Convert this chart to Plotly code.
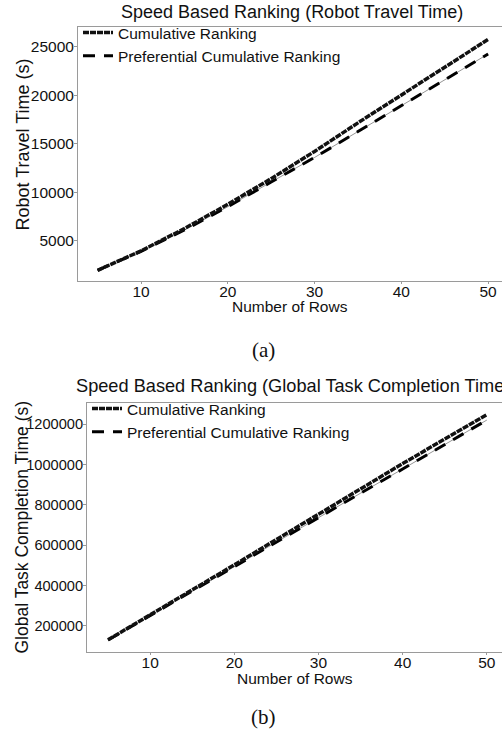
import plotly.graph_objects as go

# ---------------- data ----------------
rows = [5, 10, 15, 20, 25, 30, 35, 40, 45, 50]

travel_cumulative = [1950, 3950, 6250, 8750, 11400, 14200, 17150, 20050, 22900, 25750]
travel_preferential = [1950, 3900, 6100, 8500, 11050, 13580, 16250, 18900, 21600, 24250]

global_cumulative = [130000, 253000, 377000, 502000, 628000, 755000, 880000, 1005000, 1127000, 1248000]
global_preferential = [129000, 251000, 373000, 495000, 617000, 738000, 858000, 978000, 1100000, 1221000]

x_ticks = [10, 20, 30, 40, 50]
y1_ticks = [5000, 10000, 15000, 20000, 25000]
y2_ticks = [200000, 400000, 600000, 800000, 1000000, 1200000]

W, H = 502, 733
FONT = "Liberation Sans, Arial, sans-serif"

def px(x):
    return x / W

def py(y):
    return 1 - y / H

fig = go.Figure()

def add_panel(xa, ya, cum, pref, legend):
    # thin gray connecting line under the dashes
    fig.add_trace(go.Scatter(x=rows, y=pref, mode="lines", xaxis=xa, yaxis=ya,
                             line=dict(color="#7a7a7a", width=0.8),
                             showlegend=False, hoverinfo="skip", legend=legend))
    fig.add_trace(go.Scatter(x=rows, y=pref, mode="lines", xaxis=xa, yaxis=ya,
                             name="Preferential Cumulative Ranking",
                             line=dict(color="black", width=3, dash="12px,9px"),
                             legend=legend, legendrank=2))
    fig.add_trace(go.Scatter(x=rows, y=cum, mode="lines", xaxis=xa, yaxis=ya,
                             name="Cumulative Ranking",
                             line=dict(color="#111111", width=3.5, dash="6px,1px"),
                             legend=legend, legendrank=1))

add_panel("x", "y", travel_cumulative, travel_preferential, "legend")
add_panel("x2", "y2", global_cumulative, global_preferential, "legend2")

axis_common = dict(showline=True, linecolor="#9a9a9a", linewidth=1, mirror=True,
                   showgrid=False, zeroline=False, ticks="outside", ticklen=3,
                   tickcolor="#9a9a9a", tickformat="d",
                   tickfont=dict(family=FONT, size=15.5, color="#111"))

xaxis_extra = dict(tickvals=x_ticks, ticklen=2, ticklabelstandoff=-6)

fig.update_layout(
    width=W, height=H,
    margin=dict(l=0, r=0, t=0, b=0),
    paper_bgcolor="white", plot_bgcolor="white",
    font=dict(family=FONT, color="#111"),
    xaxis=dict(axis_common, domain=[px(78), 1], range=[2.74, 51.6], anchor="y", **xaxis_extra),
    yaxis=dict(axis_common, domain=[py(281), py(27)], range=[845, 27030], anchor="x",
               tickvals=y1_ticks, ticklabelstandoff=-3),
    xaxis2=dict(axis_common, domain=[px(87), 1], range=[2.5, 51.8], anchor="y2", **xaxis_extra),
    yaxis2=dict(axis_common, domain=[py(652), py(403)], range=[69500, 1305700], anchor="x2",
                tickvals=y2_ticks, ticklabelstandoff=-3,
                tickfont=dict(family=FONT, size=14.6, color="#111")),
    legend=dict(x=px(78), y=py(16), xanchor="left", yanchor="top",
                bgcolor="rgba(0,0,0,0)", borderwidth=0, itemwidth=30,
                font=dict(family=FONT, size=15.5, color="#111"), tracegroupgap=0),
    legend2=dict(x=px(87), y=py(392), xanchor="left", yanchor="top",
                 bgcolor="rgba(0,0,0,0)", borderwidth=0, itemwidth=30,
                 font=dict(family=FONT, size=15.5, color="#111"), tracegroupgap=0),
    showlegend=True,
)

ann = [
    dict(text="Speed Based Ranking (Robot Travel Time)", x=px(292), y=py(12),
         xanchor="center", yanchor="middle", font=dict(size=18)),
    dict(text="Robot Travel Time (s)", x=px(22.5), y=py(145), textangle=-90,
         xanchor="center", yanchor="middle", font=dict(size=18)),
    dict(text="Number of Rows", x=px(290), y=py(306.5),
         xanchor="center", yanchor="middle", font=dict(size=15.5)),
    dict(text="(a)", x=px(263), y=py(350), xanchor="center", yanchor="middle",
         font=dict(family="Liberation Serif, DejaVu Serif, serif", size=21)),
    dict(text="Speed Based Ranking (Global Task Completion Time)", x=px(74), y=py(386),
         xanchor="left", yanchor="middle", font=dict(size=18.2)),
    dict(text="Global Task Completion Time (s)", x=px(21), y=py(527.5), textangle=-90,
         xanchor="center", yanchor="middle", font=dict(size=17.5)),
    dict(text="Number of Rows", x=px(295), y=py(678),
         xanchor="center", yanchor="middle", font=dict(size=15.5)),
    dict(text="(b)", x=px(263), y=py(717), xanchor="center", yanchor="middle",
         font=dict(family="Liberation Serif, DejaVu Serif, serif", size=21)),
]
for a in ann:
    a.update(xref="paper", yref="paper", showarrow=False)
    a.setdefault("font", {})
    a["font"].setdefault("family", FONT)
    a["font"].setdefault("color", "#111")
fig.update_layout(annotations=ann)

fig.write_html("out.html",
               config={"displayModeBar": False},
               post_script="document.body.style.margin='0';document.body.style.overflow='hidden';")
